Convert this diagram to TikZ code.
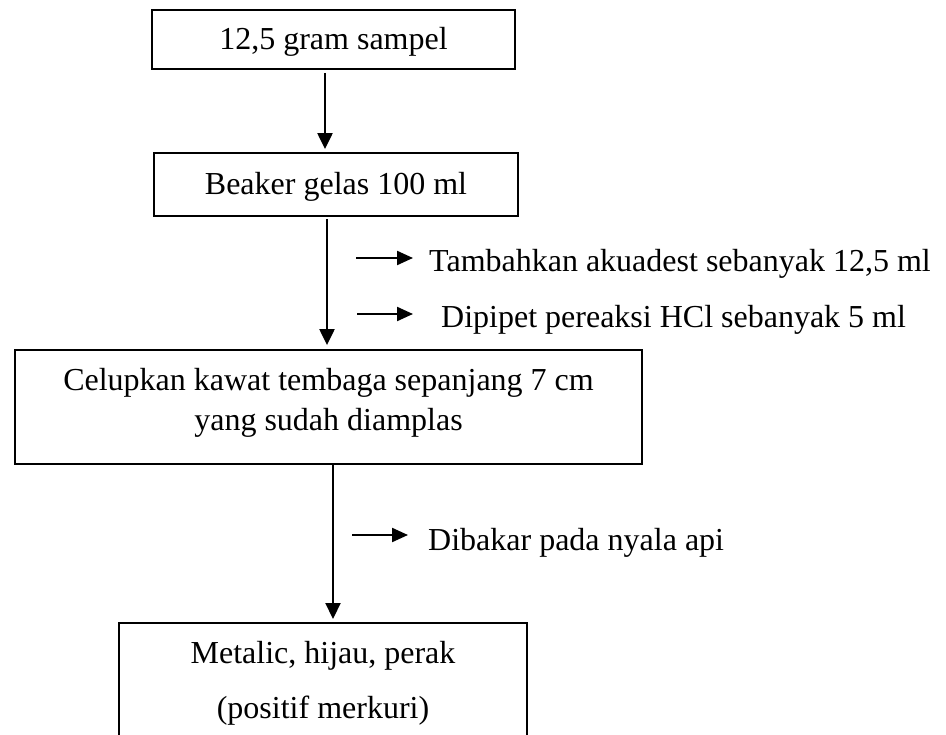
\documentclass[tikz,border=0pt]{standalone}
\usepackage{fontspec}
\setmainfont{Liberation Serif}
\usetikzlibrary{arrows.meta}
\begin{document}
\begin{tikzpicture}[x=1pt,y=-1pt,
  box/.style={draw=black,line width=1.8pt,rectangle,inner sep=0pt,
    font=\fontsize{32}{40}\selectfont,align=center},
  flow/.style={line width=2.2pt,-{Triangle[length=16pt,width=15pt]}},
  side/.style={line width=2.2pt,-{Triangle[length=16pt,width=14pt]}},
  lbl/.style={inner sep=0pt,anchor=base west,font=\fontsize{32}{40}\selectfont}]
\useasboundingbox (0,0) rectangle (946,735);
\clip (0,0) rectangle (946,735);
% boxes
\node[box,minimum width=363pt,minimum height=59pt,text height=21pt,text depth=0pt] (b1) at (333.5,39.5) {12,5 gram sampel};
\node[box,minimum width=364pt,minimum height=63pt,text height=21pt,text depth=0pt] (b2) at (336,184.5) {Beaker gelas 100 ml};
\node[box,minimum width=627pt,minimum height=114pt] (b3) at (328.5,407)
  {Celupkan kawat tembaga sepanjang 7 cm\\yang sudah diamplas\rule[-16pt]{0pt}{16pt}};
\node[box,anchor=north,minimum width=408pt,inner ysep=18pt,font=\fontsize{32}{55}\selectfont] (b4) at (323,622)
  {Metalic, hijau, perak\\(positif merkuri)};
% main flow
\draw[flow,shorten <=3pt,shorten >=3pt] (325,0 |- b1.south) -- (325,0 |- b2.north);
\draw[flow,shorten <=2pt,shorten >=4pt] (327,0 |- b2.south) -- (327,0 |- b3.north);
\draw[flow,shorten >=3pt] (333,0 |- b3.south) -- (333,0 |- b4.north);
% side notes
\node[lbl] (t1) at (429,272) {Tambahkan akuadest sebanyak 12,5 ml};
\node[lbl] (t2) at (441,328) {Dipipet pereaksi HCl sebanyak 5 ml};
\node[lbl] (t3) at (428,550) {Dibakar pada nyala api};
\coordinate (s1) at (356,258);
\coordinate (s2) at (357,314);
\coordinate (s3) at (352,535);
\draw[side,shorten >=16pt] (s1) -- (s1 -| t1.west);
\draw[side,shorten >=28pt] (s2) -- (s2 -| t2.west);
\draw[side,shorten >=20pt] (s3) -- (s3 -| t3.west);
\end{tikzpicture}
\end{document}
